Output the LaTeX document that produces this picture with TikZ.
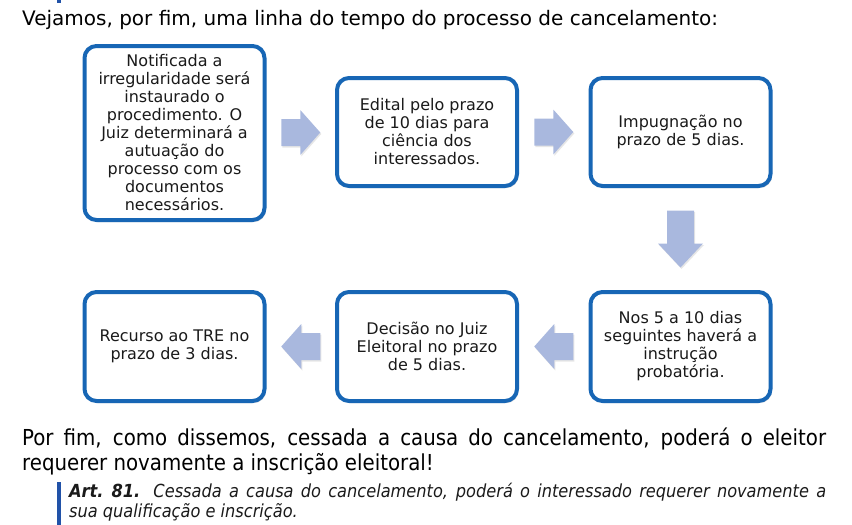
\documentclass[tikz,border=0pt]{standalone}
\usepackage{fontspec}
\setmainfont{DejaVu Sans}
\newfontfamily\condfont{DejaVu Sans Condensed}
\usetikzlibrary{shadows,calc}
\definecolor{boxblue}{HTML}{1766B5}
\definecolor{arrowblue}{HTML}{A9B8DE}
\definecolor{barblue}{HTML}{2152A8}
\definecolor{txt}{HTML}{1A1A1A}
\newcommand\blkarrow[4]{%
  \fill[arrowblue, drop shadow={shadow xshift=1pt, shadow yshift=-1.5pt, opacity=0.2}, shift={#1}, rotate=#2]
    (-#3pt,-13.5pt) -- (#3pt-#4pt,-13.5pt) -- (#3pt-#4pt,-22.5pt) -- (#3pt,0pt)
    -- (#3pt-#4pt,22.5pt) -- (#3pt-#4pt,13.5pt) -- (-#3pt,13.5pt) -- cycle;}
\begin{document}
\begin{tikzpicture}[x=1pt,y=-1pt,
  stepbox/.style={draw=boxblue, line width=4pt, rounded corners=12pt, fill=white,
    minimum width=180pt, align=center, font=\fontsize{16}{18}\selectfont, text=txt,
    inner sep=0pt, drop shadow={shadow xshift=1.5pt, shadow yshift=-2pt, opacity=0.3}}]
\useasboundingbox (0,0) rectangle (852,525);
\fill[barblue] (57,0) rectangle (61,3);
\node[anchor=base west, font=\fontsize{20}{24}\selectfont, inner sep=0pt] (title) at (22,25)
  {Vejamos, por fim, uma linha do tempo do processo de cancelamento:};

\node[stepbox, minimum height=174pt] (b1) at (174.5,133)
  {Notificada a\\irregularidade será\\instaurado o\\procedimento. O\\Juiz determinará a\\autuação do\\processo com os\\documentos\\necessários.};
\node[stepbox, minimum height=108pt] (b2) at (427,132)
  {Edital pelo prazo\\de 10 dias para\\ciência dos\\interessados.};
\node[stepbox, minimum height=108pt] (b3) at (680.5,132)
  {Impugnação no\\prazo de 5 dias.};
\node[stepbox, minimum height=109pt] (b4) at (680.5,346.5)
  {Nos 5 a 10 dias\\seguintes haverá a\\instrução\\probatória.};
\node[stepbox, minimum height=109pt] (b5) at (427,346.5)
  {Decisão no Juiz\\Eleitoral no prazo\\de 5 dias.};
\node[stepbox, minimum height=109pt] (b6) at (174.5,346.5)
  {Recurso ao TRE no\\prazo de 3 dias.};

\blkarrow{($(b1.east)!0.5!(b2.west)$)}{0}{19.5}{20}
\blkarrow{($(b2.east)!0.5!(b3.west)$)}{0}{19.5}{20}
\blkarrow{($(b3.south)!0.5!(b4.north)$)}{-90}{28.5}{24}
\blkarrow{($(b4.west)!0.5!(b5.east)$)}{180}{19.5}{20}
\blkarrow{($(b5.west)!0.5!(b6.east)$)}{180}{19.5}{20}

\node[anchor=base west, inner sep=0pt, font=\condfont\fontsize{22}{26}\selectfont] (p1) at (22,445)
  {\makebox[804pt][s]{Por fim, como dissemos, cessada a causa do cancelamento, poderá o eleitor}};
\node[anchor=base west, inner sep=0pt, font=\condfont\fontsize{22}{26}\selectfont] (p2) at (22,470)
  {requerer novamente a inscrição eleitoral!};

\fill[barblue] (57,482) rectangle (61,525);
\node[anchor=base west, inner sep=0pt, font=\condfont\itshape\fontsize{18}{22}\selectfont, text=txt] (a1) at (69,497)
  {\makebox[757pt][s]{\textbf{Art.~81.} Cessada a causa do cancelamento, poderá o interessado requerer novamente a}};
\node[anchor=base west, inner sep=0pt, font=\condfont\itshape\fontsize{18}{22}\selectfont, text=txt] (a2) at (69,517)
  {sua qualificação e inscrição.};
\end{tikzpicture}
\end{document}
